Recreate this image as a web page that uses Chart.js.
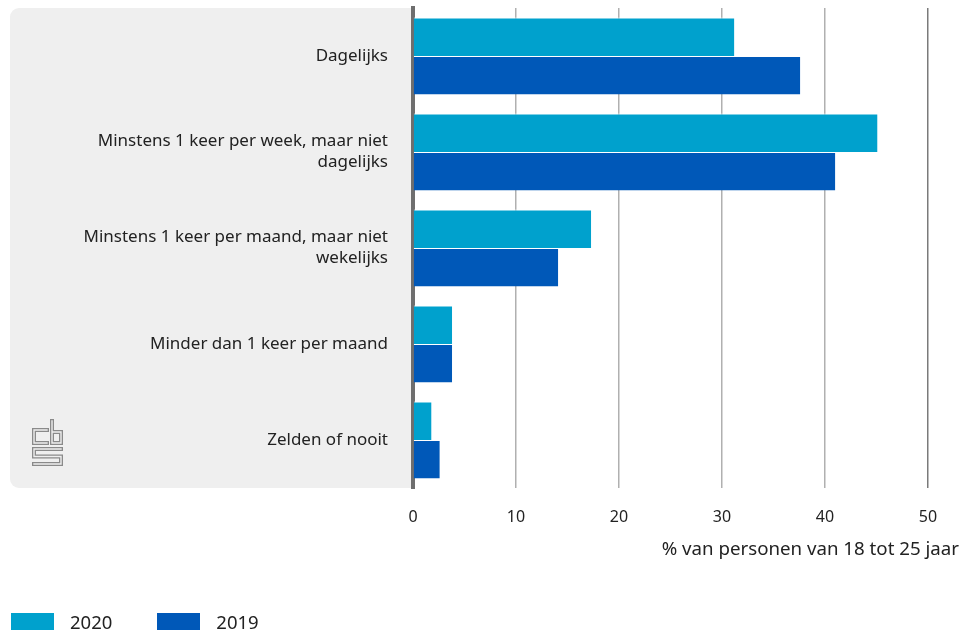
<!DOCTYPE html>
<html>
<head>
<meta charset="utf-8">
<script src="https://cdn.jsdelivr.net/npm/chart.js@4"></script>
<style>
  html, body { margin: 0; padding: 0; background: #fff; }
  #wrap { position: relative; width: 968px; height: 632px; }
  #legend { position: absolute; left: 11px; top: 609px; display: flex; font: 18.5px 'Noto Sans', sans-serif; color: #222; }
  .item { display: flex; align-items: center; margin-right: 45px; }
  .box { width: 43px; height: 17px; margin-right: 16px; }
</style>
</head>
<body>
<div id="wrap">
  <canvas id="chart" width="968" height="632"></canvas>
  <div id="legend"></div>
</div>
<script>
const categories = [
  'Dagelijks',
  ['Minstens 1 keer per week, maar niet', 'dagelijks'],
  ['Minstens 1 keer per maand, maar niet', 'wekelijks'],
  'Minder dan 1 keer per maand',
  'Zelden of nooit'
];
const values2020 = [31.2, 45.1, 17.3, 3.8, 1.8];
const values2019 = [37.6, 41.0, 14.1, 3.8, 2.6];
const xTicks = [0, 10, 20, 30, 40, 50];
const axisTitle = '% van personen van 18 tot 25 jaar';

const FONT = "'Noto Sans', sans-serif";
const seriesColors = { '2020': '#00a1cd', '2019': '#0058b8' };

// grey panel behind the category labels, plus the cbs mark
const panelPlugin = {
  id: 'panel',
  beforeDraw(chart) {
    const { ctx, chartArea } = chart;
    const x0 = 10, y0 = chartArea.top, x1 = chartArea.left - 2, y1 = chartArea.bottom, r = 9;
    ctx.save();
    ctx.fillStyle = '#efefef';
    ctx.beginPath();
    ctx.moveTo(x0 + r, y0);
    ctx.lineTo(x1, y0);
    ctx.lineTo(x1, y1);
    ctx.lineTo(x0 + r, y1);
    ctx.arcTo(x0, y1, x0, y1 - r, r);
    ctx.lineTo(x0, y0 + r);
    ctx.arcTo(x0, y0, x0 + r, y0, r);
    ctx.fill();

    // logo drawn as double outlined strokes
    const paths = [
      [[47, 430], [34, 430], [34, 443], [47, 443]],
      [[52, 421], [52, 443], [61, 443], [61, 432], [52, 432]],
      [[61, 449], [34, 449], [34, 456.5], [61, 456.5], [61, 464], [34, 464]]
    ];
    const strokeAll = (w, c) => {
      ctx.lineWidth = w;
      ctx.strokeStyle = c;
      ctx.lineJoin = 'miter';
      ctx.lineCap = 'square';
      paths.forEach(p => {
        ctx.beginPath();
        p.forEach(([x, y], i) => i ? ctx.lineTo(x, y) : ctx.moveTo(x, y));
        ctx.stroke();
      });
    };
    strokeAll(4, '#8a8a8a');
    strokeAll(1.4, '#efefef');
    ctx.restore();
  },
  afterDraw(chart) {
    const { ctx } = chart;
    ctx.save();
    ctx.font = '18.7px ' + FONT;
    ctx.fillStyle = '#222';
    ctx.textAlign = 'right';
    ctx.textBaseline = 'middle';
    ctx.fillText(axisTitle, chart.width - 9, 550);
    ctx.restore();
  }
};

const chart = new Chart(document.getElementById('chart'), {
  type: 'bar',
  data: {
    labels: categories,
    datasets: [
      { label: '2020', data: values2020, backgroundColor: seriesColors['2020'] },
      { label: '2019', data: values2019, backgroundColor: seriesColors['2019'] }
    ]
  },
  options: {
    indexAxis: 'y',
    responsive: false,
    animation: false,
    layout: { padding: { top: 8, right: 40, left: 0, bottom: 0 } },
    datasets: {
      bar: {
        categoryPercentage: 0.8,
        barPercentage: 1,
        borderColor: '#fff',
        borderWidth: { top: 1, right: 0, bottom: 0, left: 0 }
      }
    },
    scales: {
      x: {
        min: 0,
        max: 50,
        afterBuildTicks: (scale) => { scale.ticks = xTicks.map(v => ({ value: v })); },
        afterFit: (scale) => { scale.height = 144; scale.paddingLeft = 0; scale.paddingRight = 0; },
        grid: {
          color: (c) => c.tick && c.tick.value === 50 ? '#7a7a7a' : '#b0b0b0',
          lineWidth: 1.5,
          drawTicks: false
        },
        border: { display: false },
        ticks: { padding: 20, color: '#222', font: { family: FONT, size: 16 } }
      },
      y: {
        afterFit: (scale) => { scale.width = 413; scale.paddingTop = 0; scale.paddingBottom = 0; },
        grid: { display: false, drawTicks: false },
        border: { display: true, color: '#6e6e6e', width: 4 },
        ticks: { padding: 25, color: '#222', font: { family: FONT, size: 17, lineHeight: 1.25 } }
      }
    },
    plugins: {
      legend: { display: false },
      tooltip: { enabled: false }
    }
  },
  plugins: [panelPlugin]
});

// legend below the chart
const legend = document.getElementById('legend');
chart.data.datasets.forEach(ds => {
  const item = document.createElement('div');
  item.className = 'item';
  const box = document.createElement('span');
  box.className = 'box';
  box.style.background = ds.backgroundColor;
  item.appendChild(box);
  item.appendChild(document.createTextNode(ds.label));
  legend.appendChild(item);
});
</script>
</body>
</html>
